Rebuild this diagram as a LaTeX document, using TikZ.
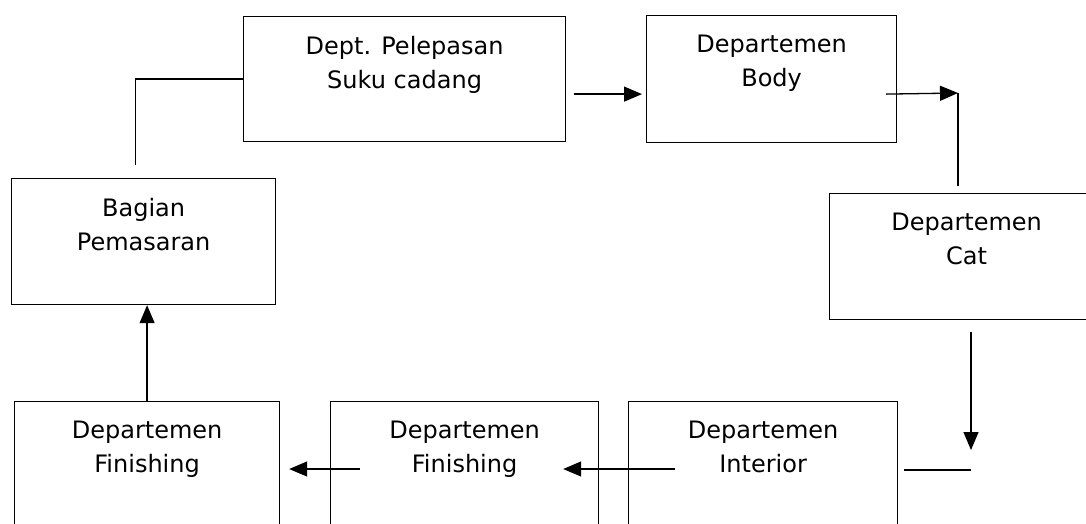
\documentclass[tikz,border=0pt]{standalone}
\usepackage{fontspec}
\setmainfont{DejaVu Sans}
\usepackage{tikz}
\usetikzlibrary{arrows.meta}
\tikzset{
	box/.style={
		rectangle,
		draw=black,
		line width=1.2pt,
		anchor=north west,
		inner sep=0pt
	},
	boxtext/.style={
		anchor=north,
		align=center,
		inner sep=0pt,
		yshift=-20pt,
		font=\fontsize{24}{34}\selectfont
	},
	line/.style={line width=1.4pt},
	arrow/.style={-{Triangle[length=18pt,width=15pt]},line width=1.3pt}
}

\begin{document}
\begin{tikzpicture}[x=1pt,y=-1pt]
		\useasboundingbox (0,0) rectangle (1086,523);
		\clip (0,0) rectangle (1086,523);

		\node[box,minimum width=322pt,minimum height=125pt,label={[boxtext]north:{Dept. Pelepasan\\Suku cadang}}] (lepas) at (243,16) {};
		\node[box,minimum width=250pt,minimum height=127pt,label={[boxtext]north:{Departemen\\Body}}] (body) at (646,15) {};
		\node[box,minimum width=274pt,minimum height=126pt,label={[boxtext]north:{Departemen\\Cat}}] (cat) at (829,193) {};
		\node[box,minimum width=264pt,minimum height=126pt,label={[boxtext]north:{Bagian\\Pemasaran}}] (pasar) at (11,178) {};
		\node[box,minimum width=265pt,minimum height=140pt,label={[boxtext]north:{Departemen\\Finishing}}] (finkiri) at (14,401) {};
		\node[box,minimum width=268pt,minimum height=140pt,label={[boxtext]north:{Departemen\\Finishing}}] (finmid) at (330,401) {};
		\node[box,minimum width=269pt,minimum height=140pt,label={[boxtext]north:{Departemen\\Interior}}] (inter) at (628,401) {};

		\coordinate (belok) at (958,93);
		\coordinate (sudut) at (971,470);

		\draw[line] ([xshift=-8pt,yshift=13pt]pasar.north) |- (lepas.west);
		\draw[arrow] ([xshift=8pt,yshift=-15pt]lepas.east) -- ([xshift=-4pt,yshift=-15pt]body.west);
		\draw[arrow] ([xshift=-11pt,yshift=-15pt]body.east) -- (belok);
		\draw[line] (belok) -- ([yshift=7pt]belok |- cat.north);
		\draw[arrow] ([yshift=-12pt]sudut |- cat.south) -- ([yshift=20pt]sudut);
		\draw[line] (sudut) -- ([xshift=6pt]sudut -| inter.east);
		\draw[arrow] ([xshift=47pt,yshift=-68pt]inter.north west) -- ([xshift=-36pt,yshift=-68pt]finmid.north east);
		\draw[arrow] ([xshift=30pt,yshift=-68pt]finmid.north west) -- ([xshift=9pt,yshift=-68pt]finkiri.north east);
		\draw[arrow] (finkiri.north) -- (finkiri.north |- pasar.south);
	\end{tikzpicture}
\end{document}
